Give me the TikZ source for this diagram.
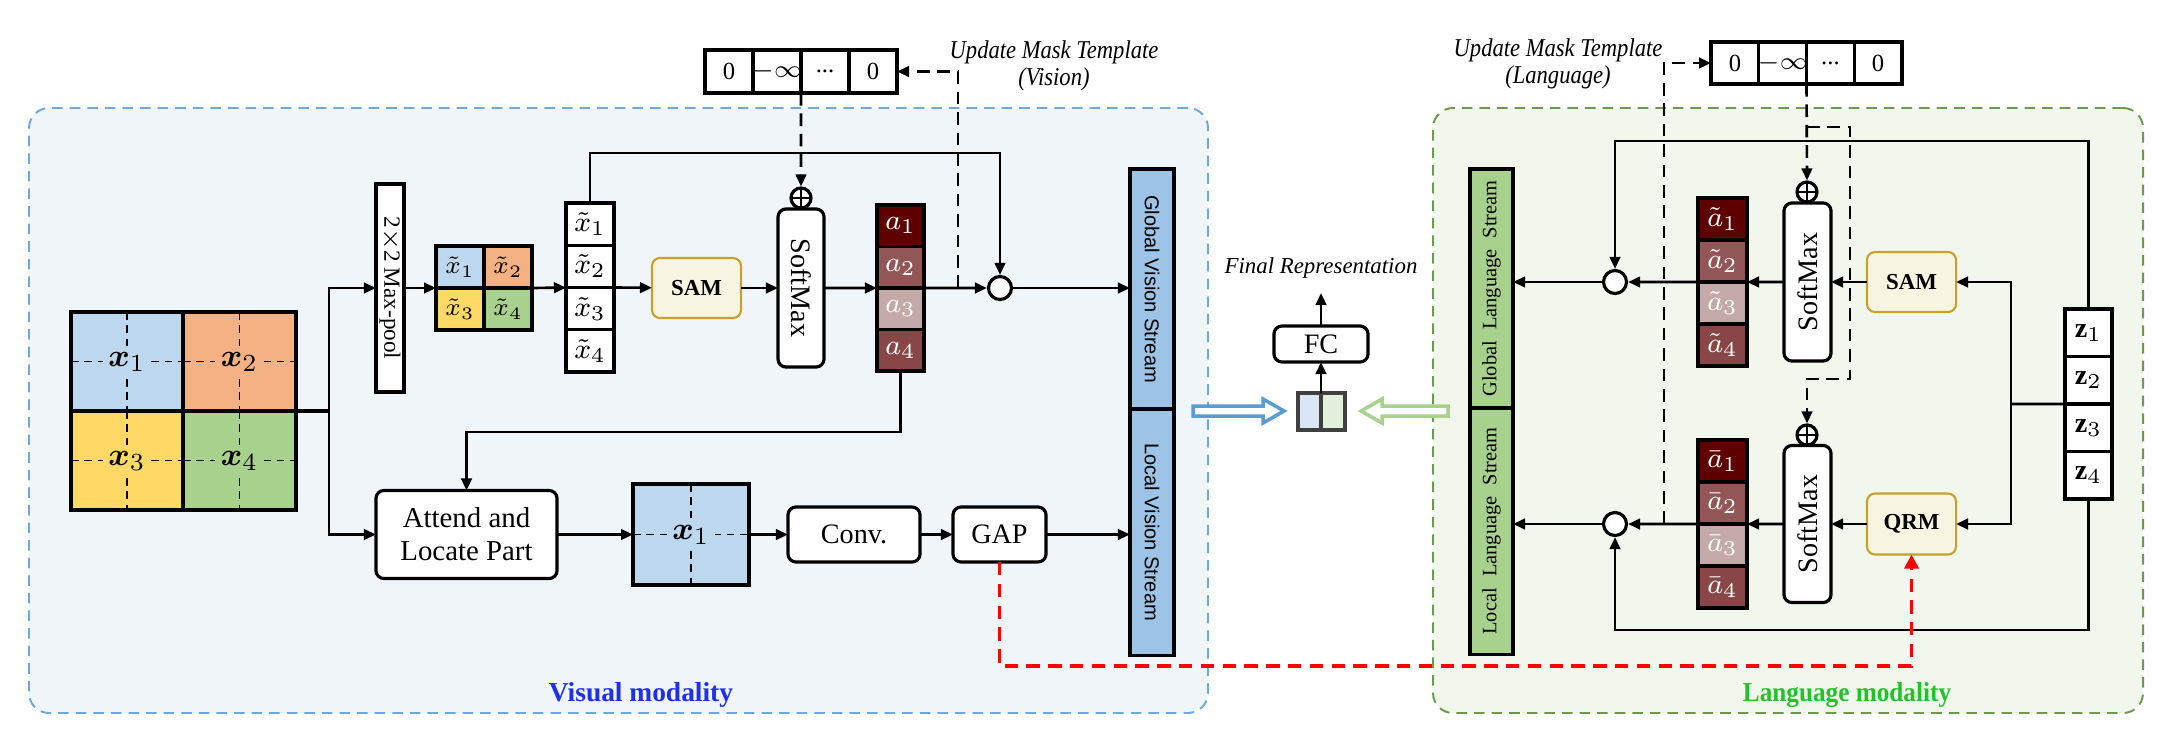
\documentclass[tikz,border=0pt]{standalone}
\usepackage{amsmath,amssymb,bm}
\usepackage{graphicx}
\usepackage{fontspec}
\setmainfont{Liberation Serif}
\setsansfont{Liberation Sans}
\usetikzlibrary{arrows.meta,calc,fit}
\newcommand{\myfs}[1]{\fontsize{#1}{#1}\selectfont}
\definecolor{visbg}{HTML}{F0F5FA}
\definecolor{visbd}{HTML}{6FA8DC}
\definecolor{lanbg}{HTML}{F2F7ED}
\definecolor{lanbd}{HTML}{6A9A4C}
\definecolor{cblue}{HTML}{BDD7EE}
\definecolor{corange}{HTML}{F4B183}
\definecolor{cyellow}{HTML}{FFD966}
\definecolor{cgreen}{HTML}{A9D18E}
\definecolor{streamblue}{HTML}{9DC3E6}
\definecolor{samfill}{HTML}{F7F4E2}
\definecolor{samdraw}{HTML}{C9A02A}
\definecolor{aone}{HTML}{5E0000}
\definecolor{atwo}{HTML}{935656}
\definecolor{athree}{HTML}{C4A9A9}
\definecolor{afour}{HTML}{884646}
\definecolor{catblue}{HTML}{DAE6F3}
\definecolor{catgreen}{HTML}{E2EFDA}
\definecolor{harrowblue}{HTML}{5B9BD5}
\definecolor{harrowgreen}{HTML}{A9D18E}
\definecolor{vistext}{HTML}{1F2FEF}
\definecolor{lantext}{HTML}{22C32A}
\tikzset{
 arr/.style={line width=0.75pt,-{Triangle[length=1.2mm,width=1.05mm]}},
 dashln/.style={line width=0.75pt,dash pattern=on 3.6pt off 2.2pt},
 dasharr/.style={dashln,-{Triangle[length=1.2mm,width=1.05mm]}},
 reddash/.style={line width=1pt,draw=red,dash pattern=on 3.8pt off 2.4pt,-{Triangle[length=1.4mm,width=1.4mm,fill=red]}},
 bx/.style={draw,line width=0.9pt,inner sep=0pt,outer sep=0pt},
 rbx/.style={bx,rounded corners=0.08cm,fill=white},
 gcell/.style={inner sep=0pt,outer sep=0pt},
 griddash/.style={line width=0.5pt,dash pattern=on 2.2pt off 1.6pt},
 gridedge/.style={line width=1pt},
 regionbox/.style={inner sep=0pt,dash pattern=on 3pt off 2pt,line width=0.55pt,rounded corners=0.2cm},
 oplus/.style={circle,draw,line width=0.9pt,fill=white,minimum size=0.2cm,inner sep=0pt,
   path picture={\draw[line width=0.7pt] (path picture bounding box.north) -- (path picture bounding box.south) (path picture bounding box.west) -- (path picture bounding box.east);}},
 odot/.style={circle,draw,line width=0.9pt,fill=white,minimum size=0.23cm,inner sep=0pt,
   path picture={\fill (path picture bounding box.center) circle (0.6pt);}},
 samb/.style={rbx,fill=samfill,draw=samdraw,line width=0.6pt,minimum width=0.89cm,minimum height=0.6cm,font=\bfseries\myfs{6.5}},
 maskcell/.style={bx,fill=white,minimum width=0.48cm,minimum height=0.43cm},
 masktext/.style={inner sep=0pt,font=\myfs{7}},
 stackcell/.style={bx,minimum width=0.48cm},
 stacktext/.style={inner sep=0pt,font=\myfs{8}},
 umt/.style={font=\itshape\fontsize{7.3}{7.8}\selectfont,align=center},
}
\begin{document}
\begin{tikzpicture}[x=0.01cm,y=-0.01cm]
\useasboundingbox (0,0) rectangle (2161,754);
% regions
\node[regionbox,draw=visbd,fill=visbg,fit={(29,108)(1208,713)}] (visreg) {};
\node[regionbox,draw=lanbd,fill=lanbg,fit={(1433,108)(2143,713)}] (lanreg) {};

% ---------------- Vision ----------------
\node[gcell,fill=cblue,fit={(71,312)(183,411)}] (g1) {};
\node[gcell,fill=corange,fit={(183,312)(296,411)}] (g2) {};
\node[gcell,fill=cyellow,fit={(71,411)(183,510)}] (g3) {};
\node[gcell,fill=cgreen,fit={(183,411)(296,510)}] (g4) {};
\foreach \n in {g1,g2,g3,g4}{\draw[griddash] (\n.north)--(\n.south) (\n.west)--(\n.east);}
\node[fill=cblue,inner sep=1.6pt,font=\myfs{9.5}] (g1t) at (g1) {$\boldsymbol{x}_1$};
\node[fill=corange,inner sep=1.6pt,font=\myfs{9.5}] (g2t) at (g2) {$\boldsymbol{x}_2$};
\node[fill=cyellow,inner sep=1.6pt,font=\myfs{9.5}] (g3t) at (g3) {$\boldsymbol{x}_3$};
\node[fill=cgreen,inner sep=1.6pt,font=\myfs{9.5}] (g4t) at (g4) {$\boldsymbol{x}_4$};
\foreach \n in {g1,g2,g3,g4}{\draw[gridedge] (\n.north west) rectangle (\n.south east);}

\node[bx,fill=white,rotate=-90,minimum width=2.08cm,minimum height=0.28cm,font=\myfs{6.6}] (mp) at (390,288) {2$\times$2 Max-pool};

\node[gcell,fill=cblue,fit={(436,246)(484,288)}] (s1) {};
\node[gcell,fill=corange,fit={(484,246)(532,288)}] (s2) {};
\node[gcell,fill=cyellow,fit={(436,288)(484,330)}] (s3) {};
\node[gcell,fill=cgreen,fit={(484,288)(532,330)}] (s4) {};
\foreach \n/\i in {s1/1,s2/2,s3/3,s4/4}{\node[stacktext,font=\myfs{7.5}] (\n t) at (\n) {$\tilde{x}_\i$};
  \draw[gridedge] (\n.north west) rectangle (\n.south east);}

\foreach \i in {1,...,4}{\node[stackcell,fill=white,minimum height=0.4225cm] (xt\i) at (590,{203+42.25*(\i-0.5)}) {};
  \node[stacktext] (xt\i t) at (xt\i) {$\tilde{x}_\i$};}

\node[samb] (samv) at (696.5,288) {SAM};
\node[rbx,rotate=-90,minimum width=1.58cm,minimum height=0.46cm,font=\myfs{8}] (smv) at (801,288) {SoftMax};
\node[oplus] (pv) at (801,198) {};

\foreach \i/\c in {1/aone,2/atwo,3/athree,4/afour}{\node[stackcell,fill=\c,minimum width=0.47cm,minimum height=0.415cm] (a\i) at (900.5,{205+41.5*(\i-0.5)}) {};
  \node[stacktext,text=white] (a\i t) at (a\i) {$a_\i$};}

\node[odot] (odv) at (1000,288) {};

\node[bx,fill=streamblue,rotate=-90,minimum width=2.40cm,minimum height=0.44cm,font=\sffamily\myfs{5.7}] (gv) at (1152,289) {Global Vision Stream};
\node[bx,fill=streamblue,rotate=-90,minimum width=2.46cm,minimum height=0.44cm,font=\sffamily\myfs{5.7}] (lv) at (1152,532) {Local Vision Stream};

\node[maskcell] (mv1) at (729,71.5) {};
\node[maskcell] (mv2) at (777,71.5) {};
\node[maskcell] (mv3) at (825,71.5) {};
\node[maskcell] (mv4) at (873,71.5) {};
\node[masktext] (mv1t) at (mv1) {0};
\node[masktext] (mv2t) at (mv2) {$-\infty$};
\node[masktext] (mv3t) at (mv3) {...};
\node[masktext] (mv4t) at (mv4) {0};
\node[umt] (umtv) at (1054,66) {\scalebox{0.88}[1]{Update Mask Template}\\\scalebox{0.88}[1]{(Vision)}};

\node[rbx,minimum width=1.81cm,minimum height=0.88cm,align=center,font=\fontsize{8.2}{9.4}\selectfont] (attend) at (466.5,534.5) {Attend and\\Locate Part};
\node[gcell,fill=cblue,fit={(633,484)(749,585)}] (x1b) {};
\draw[griddash] (x1b.north)--(x1b.south) (x1b.west)--(x1b.east);
\node[fill=cblue,inner sep=1.6pt,font=\myfs{9.5}] (x1t) at (x1b) {$\boldsymbol{x}_1$};
\draw[gridedge] (x1b.north west) rectangle (x1b.south east);
\node[rbx,minimum width=1.32cm,minimum height=0.55cm,font=\myfs{8}] (conv) at (854,534.5) {Conv.};
\node[rbx,minimum width=0.93cm,minimum height=0.55cm,font=\myfs{8}] (gap) at (999.5,534.5) {GAP};

\node[font=\bfseries\myfs{7.8},text=vistext] (vmod) at (641,695) {Visual modality};

% vision connectors
\coordinate (split) at (329,411);
\draw[gridedge] (g2.south east) -- (split);
\draw[arr] (split) |- (mp);
\draw[arr] (split) |- (attend);
\draw[arr] (mp.north) -- (s1.south west);
\draw[arr] (s2.south east) -- (xt2.south west);
\draw[arr] (xt2.south east) -- (samv);
\draw[arr] (samv) -- (smv);
\draw[arr] (smv) -- (a2.south west);
\draw[arr] (a2.south east) -- (odv);
\draw[arr] (odv) -- (odv -| gv.south);
\draw[arr] (xt1.north) -- ++(0,-50) -| (odv);
\coordinate (dv) at (958,288);
\draw[dasharr] (dv) |- (mv4.east);
\draw[dasharr] (mv2.south east) -- (pv.north);
\draw[arr] (a4.south) -- ++(0,61) -| (attend.north);
\draw[arr] (attend) -- (x1b);
\draw[arr] (x1b) -- (conv);
\draw[arr] (conv) -- (gap);
\draw[arr] (gap) -- (gap -| lv.south);

% ---------------- Fusion ----------------
\node[gcell,fill=catblue,fit={(1298,393)(1321,430)}] (cb) {};
\node[gcell,fill=catgreen,fit={(1321,393)(1345,430)}] (cg) {};
\draw[line width=1pt,draw=black!75] (cb.north west) rectangle (cb.south east) (cg.north west) rectangle (cg.south east);
\node[rbx,minimum width=0.94cm,minimum height=0.36cm,font=\myfs{8}] (fc) at (1321,344) {FC};
\node[font=\itshape\myfs{6.5}] (final) at (1321,268) {Final Representation};
\coordinate (frtip) at (1321,293);
\draw[arr] (cb.north east) -- (fc);
\draw[arr] (fc.north) -- (frtip);
\draw[draw=harrowblue,line width=1pt,fill=white] (1193,406) -- (1263,406) -- (1263,399) -- (1284,411) -- (1263,423) -- (1263,416) -- (1193,416) -- cycle;
\draw[draw=harrowgreen,line width=1pt,fill=white] (1448,406) -- (1382,406) -- (1382,399) -- (1361,411) -- (1382,423) -- (1382,416) -- (1448,416) -- cycle;

% ---------------- Language ----------------
\node[bx,fill=cgreen,rotate=90,minimum width=2.39cm,minimum height=0.43cm,font=\myfs{5.8}] (gl) at (1491.5,288.5) {Global\hspace{0.3em} Language\hspace{0.3em} Stream};
\node[bx,fill=cgreen,rotate=90,minimum width=2.46cm,minimum height=0.43cm,font=\myfs{5.8}] (ll) at (1491.5,531) {Local\hspace{0.3em} Language\hspace{0.3em} Stream};

\node[maskcell,minimum width=0.4775cm,minimum height=0.42cm] (ml1) at (1734.9,63) {};
\node[maskcell,minimum width=0.4775cm,minimum height=0.42cm] (ml2) at (1782.6,63) {};
\node[maskcell,minimum width=0.4775cm,minimum height=0.42cm] (ml3) at (1830.4,63) {};
\node[maskcell,minimum width=0.4775cm,minimum height=0.42cm] (ml4) at (1878.1,63) {};
\node[masktext] (ml1t) at (ml1) {0};
\node[masktext] (ml2t) at (ml2) {$-\infty$};
\node[masktext] (ml3t) at (ml3) {...};
\node[masktext] (ml4t) at (ml4) {0};
\node[umt] (umtl) at (1558,64) {\scalebox{0.88}[1]{Update Mask Template}\\\scalebox{0.88}[1]{(Language)}};

\node[rbx,rotate=90,minimum width=1.58cm,minimum height=0.47cm,font=\myfs{8}] (sml) at (1807.5,282) {SoftMax};
\node[rbx,rotate=90,minimum width=1.57cm,minimum height=0.47cm,font=\myfs{8}] (sml2) at (1807.5,524) {SoftMax};
\node[oplus] (pl1) at (1807,192) {};
\node[oplus] (pl2) at (1807,435) {};

\foreach \i/\c in {1/aone,2/atwo,3/athree,4/afour}{\node[stackcell,fill=\c,minimum width=0.49cm,minimum height=0.42cm] (ta\i) at (1722.5,{198+42*(\i-0.5)}) {};
  \node[stacktext,text=white] (ta\i t) at (ta\i) {$\tilde{a}_\i$};}
\foreach \i/\c in {1/aone,2/atwo,3/athree,4/afour}{\node[stackcell,fill=\c,minimum width=0.49cm,minimum height=0.42cm] (ba\i) at (1722.5,{440+42*(\i-0.5)}) {};
  \node[stacktext,text=white] (ba\i t) at (ba\i) {$\bar{a}_\i$};}

\node[samb] (saml) at (1911.5,282) {SAM};
\node[samb,minimum height=0.61cm] (qrm) at (1911.5,524) {QRM};

\foreach \i in {1,...,4}{\node[stackcell,fill=white,minimum width=0.47cm,minimum height=0.475cm] (z\i) at (2088.5,{309+47.5*(\i-0.5)}) {};
  \node[stacktext] (z\i t) at (z\i) {$\mathbf{z}_\i$};}

\node[odot] (odl) at (1615,282) {};
\node[odot] (odl2) at (1615,524) {};

\node[font=\bfseries\myfs{7.8},text=lantext] (lmod) at (1847,695) {\scalebox{0.92}[1]{Language modality}};

% language connectors
\coordinate (zsplit) at (2011,404);
\draw[line width=0.75pt] (z2.south west) -- (zsplit);
\draw[arr] (zsplit) |- (saml);
\draw[arr] (zsplit) |- (qrm);
\draw[arr] (saml) -- (sml);
\draw[arr] (sml) -- (ta2.south east);
\draw[arr] (ta2.south west) -- (odl);
\draw[arr] (odl) -- (odl -| gl.south);
\draw[arr] (z1.north) -- ++(0,-168) -| (odl);
\draw[arr] (qrm) -- (sml2);
\draw[arr] (sml2) -- (ba2.south east);
\draw[arr] (ba2.south west) -- (odl2);
\draw[arr] (odl2) -- (odl2 -| ll.south);
\draw[arr] (z4.south) -- ++(0,131) -| (odl2);
\coordinate (dl) at (1664,524);
\draw[dasharr] (dl) |- (ml1.west);
\draw[dasharr] (ml2.south east) -- (pl1.north);
\coordinate (br) at (1807,127);
\draw[dasharr] (br) -- ++(43,0) -- ++(0,252) -| (pl2.north);

% cross-modal
\draw[reddash] (gap.south) -- ++(0,104) -| (qrm.south);
\end{tikzpicture}
\end{document}
